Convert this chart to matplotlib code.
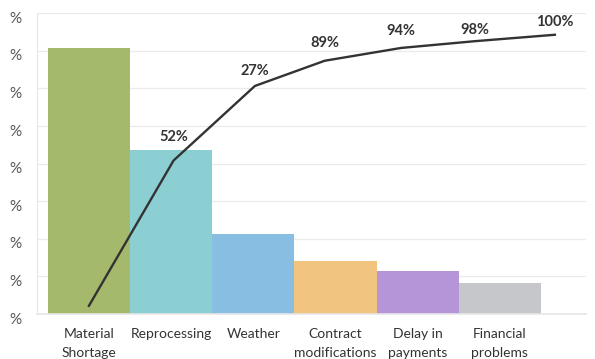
import matplotlib.pyplot as plt
import matplotlib.transforms as mtransforms
import numpy as np

plt.rcParams['font.family'] = ['Lato', 'DejaVu Sans']

# ── dados ──────────────────────────────────────────────────────────────
categorias = ["Material\nShortage", "Reprocessing", "Weather",
              "Contract\nmodifications", "Delay in\npayments", "Financial\nproblems"]
valores = [7.07, 4.36, 2.13, 1.42, 1.14, 0.83]
cores = ["#a5b96c", "#8ccfd3", "#89bee3", "#f1c480", "#b594d7", "#c6c7cb"]

curva_x = [0.0, 1.03, 2.02, 2.87, 3.80, 4.70, 5.67]
curva_y = [0.22, 4.08, 6.06, 6.73, 7.07, 7.25, 7.42]
rotulos = ["", "52%", "27%", "89%", "94%", "98%", "100%"]
desloc = [0, 17, 11, 13, 12, 8, 9.5]  # deslocamento vertical dos rótulos (pt)

y_ticks = np.arange(0, 9)

fig = plt.figure(figsize=(5.95, 3.59), dpi=100)
ax = fig.add_axes([0.062, 0.125, 0.923, 0.839])

x = np.arange(len(categorias))
ax.bar(x, valores, width=1.0, color=cores, zorder=2)
ax.plot(curva_x, curva_y, color="#333333", linewidth=1.7, zorder=3,
        solid_joinstyle='round')

for cx, cy, txt, dy in zip(curva_x, curva_y, rotulos, desloc):
    if txt:
        ax.annotate(txt, (cx, cy), xytext=(0, dy), textcoords='offset points',
                    ha='center', va='center', fontsize=10.5, fontweight='bold',
                    color="#333333", zorder=4)

ax.set_xlim(-0.633, 6.05)
ax.set_ylim(0, 8)
ax.set_yticks(y_ticks)
ax.set_yticklabels(["%"] * len(y_ticks))
ax.set_xticks(x)
ax.set_xticklabels(categorias, fontsize=10, color="#333333", linespacing=1.65)
ax.tick_params(axis='both', length=0)
ax.tick_params(axis='y', pad=11, labelsize=11, labelcolor="#555555")
ax.tick_params(axis='x', pad=10)

off = mtransforms.ScaledTranslation(0, -3 / 72, fig.dpi_scale_trans)
for lab in ax.get_yticklabels():
    lab.set_transform(lab.get_transform() + off)

ax.grid(axis='y', color="#ebebeb", linewidth=0.9, zorder=0)
for lado in ["top", "right"]:
    ax.spines[lado].set_visible(False)
ax.spines["left"].set_color("#e6e6e6")
ax.spines["bottom"].set_color("#e6e6e6")
ax.spines["bottom"].set_linewidth(1.2)

plt.savefig("out.png", dpi=100)
plt.close(fig)
